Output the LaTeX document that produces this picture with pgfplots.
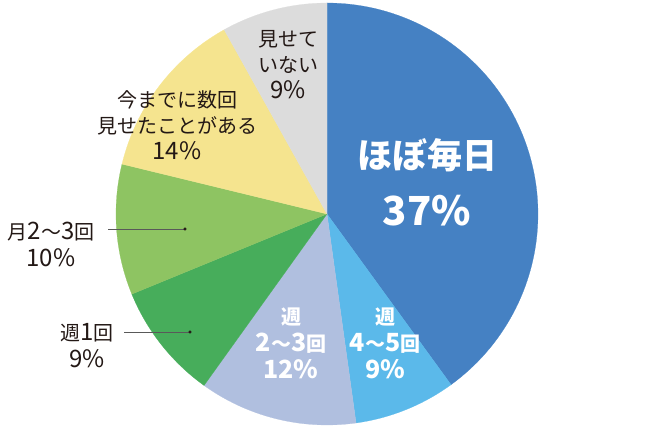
\documentclass[border=0pt]{standalone}
\usepackage{pgfplots}
\pgfplotsset{compat=1.18}
\usepackage{fontspec}
\setmainfont{Noto Sans CJK JP}

\definecolor{cBlue}{HTML}{4581C3}
\definecolor{cSky}{HTML}{5BB9EA}
\definecolor{cLav}{HTML}{B0BFDF}
\definecolor{cGreen}{HTML}{47AD5B}
\definecolor{cLime}{HTML}{8EC462}
\definecolor{cYel}{HTML}{F5E48F}
\definecolor{cGray}{HTML}{DCDCDC}
\definecolor{txt}{HTML}{231815}

% pie centre and radius (axis units = pixels of the reference)
\def\cx{327}
\def\cy{216}
\def\r{211}

% slice shares as they are drawn (clockwise from 12 o'clock)
\def\vA{40.0} % ほぼ毎日
\def\vB{7.8}  % 週4〜5回
\def\vC{12.1} % 週2〜3回
\def\vD{8.9}  % 週1回
\def\vE{10.0} % 月2〜3回
\def\vF{13.1} % 今までに数回
\def\vG{8.1}  % 見せていない

% #1 share already used, #2 share of slice, #3 colour
\newcommand\slice[3]{%
  \pgfmathsetmacro\aEnd{90-3.6*(#1)}%
  \pgfmathsetmacro\aStart{90-3.6*(#1+#2)}%
  \addplot[fill=#3, draw=#3, line width=0.2pt, domain=\aStart:\aEnd, samples=90]
    ({\cx+\r*cos(x)}, {\cy+\r*sin(x)}) -- (axis cs:\cx,\cy) -- cycle;
}

% digits are set a bit larger than the kana, as in the reference
\newcommand\dg[1]{{\fontsize{24}{26}\selectfont #1}}
\newcommand\bdg[1]{{\fontsize{25}{27}\selectfont #1}}

\begin{document}
\begin{tikzpicture}
\begin{axis}[
  width=650pt, height=430pt, scale only axis,
  xmin=0, xmax=650, ymin=0, ymax=430,
  hide axis, clip=false,
]
\path (rel axis cs:0,0) rectangle (rel axis cs:1,1);

\slice{0}{\vA}{cBlue}
\slice{\vA}{\vB}{cSky}
\slice{\vA+\vB}{\vC}{cLav}
\slice{\vA+\vB+\vC}{\vD}{cGreen}
\slice{\vA+\vB+\vC+\vD}{\vE}{cLime}
\slice{\vA+\vB+\vC+\vD+\vE}{\vF}{cYel}
\slice{\vA+\vB+\vC+\vD+\vE+\vF}{\vG}{cGray}

% leader lines
\addplot[gray!70!black, line width=0.6pt] coordinates {(108,201) (185,201)};
\addplot[gray!70!black, line width=0.6pt] coordinates {(124,98) (190,98)};
\addplot[only marks, mark=*, mark size=1.3pt, txt] coordinates {(185,201) (190,98)};

% labels
\begin{scope}[every node/.style={align=center, text=txt, inner sep=0pt,
    font=\fontsize{20}{26}\selectfont}]
  \node at (axis cs:288,365) {見せて\\いない\\\dg{9\%}};
  \node at (axis cs:177,305) {今までに数回\\見せたことがある\\\dg{14\%}};
  \node at (axis cs:51,186) {月\dg{2}〜\dg{3}回\\[1pt]\dg{10\%}};
  \node at (axis cs:87,84) {週\dg{1}回\\[1pt]\dg{9\%}};
\end{scope}
\begin{scope}[every node/.style={align=center, text=white, inner sep=0pt,
    font=\bfseries\fontsize{20}{27}\selectfont}]
  \node at (axis cs:291,87) {週\\\bdg{2}〜\bdg{3}回\\\bdg{12\%}};
  \node at (axis cs:385,87) {週\\\bdg{4}〜\bdg{5}回\\\bdg{9\%}};
  \node[font=\bfseries\fontsize{35}{57}\selectfont] at (axis cs:427,248)
    {ほぼ毎日\\{\fontsize{40}{57}\selectfont 37\%}};
\end{scope}
\end{axis}
\end{tikzpicture}
\end{document}
